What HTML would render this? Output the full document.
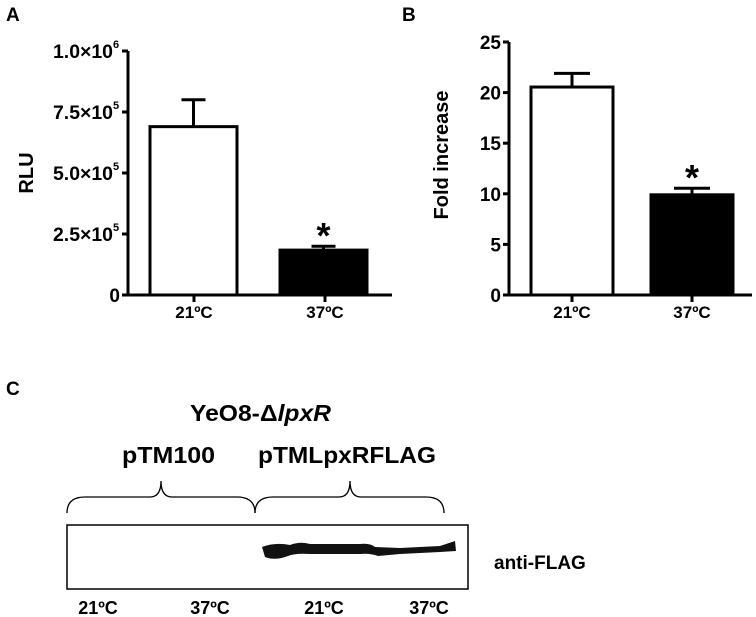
<!DOCTYPE html>
<html><head><meta charset="utf-8"><style>
body{margin:0;background:#fff;}
svg{display:block;font-family:"Liberation Sans",Arial,sans-serif;font-weight:bold;}
</style></head><body>
<svg width="756" height="617" viewBox="0 0 756 617">
<g id="A"></g>
<g id="B"></g>
<g>
<text x="6" y="395" font-size="19">C</text>
<text x="190" y="421" font-size="23" textLength="141" lengthAdjust="spacingAndGlyphs">YeO8-Δ<tspan font-style="italic">lpxR</tspan></text>
<text x="122" y="463" font-size="23" textLength="93" lengthAdjust="spacingAndGlyphs">pTM100</text>
<text x="258" y="463" font-size="23" textLength="178" lengthAdjust="spacingAndGlyphs">pTMLpxRFLAG</text>
<path d="M67,513 Q67,497 85,497 L150,497 Q161,497 161,481 Q161,497 172,497 L237,497 Q255,497 255,513" fill="none" stroke="#000" stroke-width="1.3"/>
<path d="M255,513 Q255,497 273,497 L339,497 Q350,497 350,481 Q350,497 361,497 L426,497 Q444,497 444,513" fill="none" stroke="#000" stroke-width="1.3"/>
<rect x="67" y="525" width="401" height="64" fill="#fff" stroke="#000" stroke-width="1.5"/>
<path d="M262,547 Q275,542 290,545 Q300,541 310,544 L360,544 Q370,543 375,547 L400,548 L440,546 L455,541 L456,551 L440,552 L400,554 L378,556 Q370,553 360,554 L310,554 Q295,553 288,556 Q275,561 265,557 Z" fill="#111"/>
<text x="494" y="569" font-size="19">anti-FLAG</text>
<text x="98" y="614" font-size="18" text-anchor="middle">21ºC</text>
<text x="210" y="614" font-size="18" text-anchor="middle">37ºC</text>
<text x="324" y="614" font-size="18" text-anchor="middle">21ºC</text>
<text x="429" y="614" font-size="18" text-anchor="middle">37ºC</text>
</g>
</svg>
<script>
const categories=["21ºC","37ºC"];
const rluValues=[690000,184000];
const rluErrors=[110000,16000];
const rluTicks=[0,250000,500000,750000,1000000];
const rluTickLabels=["0","2.5×10|5","5.0×10|5","7.5×10|5","1.0×10|6"];
const foldValues=[20.55,9.9];
const foldErrors=[1.35,0.65];
const foldTicks=[0,5,10,15,20,25];
const foldTickLabels=["0","5","10","15","20","25"];
const NS="http://www.w3.org/2000/svg";
function mk(parent,tag,attrs){const e=document.createElementNS(NS,tag);for(const k in attrs)e.setAttribute(k,attrs[k]);parent.appendChild(e);return e;}
function panel(g,cfg){
  const y=v=>cfg.y0-(v/cfg.max)*(cfg.y0-cfg.yTop);
  const L=mk(g,'text',{x:cfg.letterX,y:21,'font-size':19});L.textContent=cfg.letter;
  
  
  cfg.values.forEach((v,i)=>{
    const x0=cfg.barX[i],w=cfg.barW,cx=x0+w/2;
    const e=mk(g,'path',{d:`M${cx},${y(v)} V${y(v+cfg.errors[i])} M${cx-cfg.capW/2},${y(v+cfg.errors[i])} H${cx+cfg.capW/2}`,stroke:'#000','stroke-width':3,fill:'none'});
    
    
    const r=mk(g,'rect',{x:x0,y:y(v),width:w,height:cfg.y0-y(v),fill:i?'#000':'#fff',stroke:'#000','stroke-width':3});
    
    
    const t=mk(g,'line',{x1:cfg.tickX[i],x2:cfg.tickX[i],y1:cfg.y0,y2:cfg.y0+7,stroke:'#000','stroke-width':3});
    
    
    const tl=mk(g,'text',{x:cfg.tickX[i],y:cfg.y0+23,'font-size':17,'text-anchor':'middle'});tl.textContent=categories[i];
    
    
  });
  const s=mk(g,'text',{x:cfg.barX[1]+cfg.barW/2,y:y(cfg.values[1]+cfg.errors[1])+2,'font-size':36,'text-anchor':'middle'});s.textContent='*';
  
  
  const ax=mk(g,'path',{d:`M${cfg.axisX},${cfg.yTop} V${cfg.y0} H${cfg.axisEnd}`,stroke:'#000','stroke-width':3,fill:'none'});
  
  
  cfg.ticks.forEach((v,i)=>{
    const t=mk(g,'line',{x1:cfg.axisX-6,x2:cfg.axisX,y1:y(v),y2:y(v),stroke:'#000','stroke-width':3});
    
    
    const parts=cfg.labels[i].split('|');
    const attrs={x:cfg.axisX-(parts[1]?15:8),y:y(v)+7,'font-size':19,'text-anchor':'end'};
    if(parts[1]){attrs.textLength=60;attrs.lengthAdjust='spacingAndGlyphs';}
    const tl=mk(g,'text',attrs);
    tl.textContent=parts[0];
    
    
    if(parts[1]){const sp=mk(g,'text',{x:cfg.axisX-15,y:y(v)-3,'font-size':11});sp.textContent=parts[1];
      
      }
  });
  const yl=mk(g,'text',{x:cfg.ylx,y:cfg.yly,'font-size':20,'text-anchor':'middle',transform:`rotate(-90 ${cfg.ylx} ${cfg.yly})`});yl.textContent=cfg.ylabel;
  
  
}
panel(document.getElementById('A'),{letter:'A',letterX:6,values:rluValues,errors:rluErrors,ticks:rluTicks,labels:rluTickLabels,max:1000000,y0:295,yTop:51,axisX:128,axisEnd:392,barX:[150,280],barW:87,capW:24,tickX:[194,325],ylx:33,yly:173,ylabel:'RLU'});
panel(document.getElementById('B'),{letter:'B',letterX:402,values:foldValues,errors:foldErrors,ticks:foldTicks,labels:foldTickLabels,max:25,y0:295,yTop:42,axisX:509,axisEnd:752,barX:[531,651],barW:82,capW:36,tickX:[572,692],ylx:448,yly:155,ylabel:'Fold increase'});
</script>
</body></html>
